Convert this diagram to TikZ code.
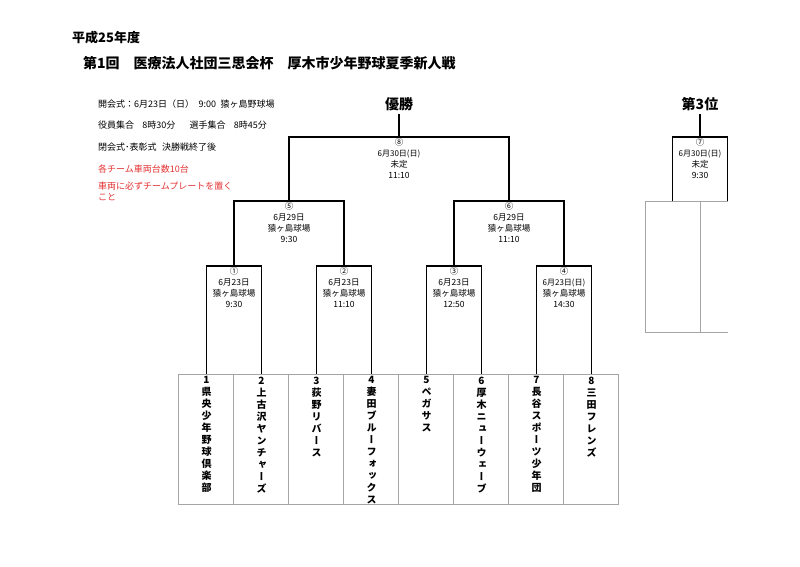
\documentclass[tikz,border=0pt]{standalone}
\usepackage{fontspec}
\setmainfont{Noto Sans CJK JP}
\newfontfamily\vfont[RawFeature=+vert]{Noto Sans CJK JP}
\definecolor{lg}{RGB}{165,165,165}
\definecolor{rd}{RGB}{228,50,50}
\begin{document}
\begin{tikzpicture}[x=1pt,y=-1pt,
  brk/.style={draw=black, line width=1.2pt},
  tbl/.style={draw=lg, line width=0.9pt},
  info/.style={anchor=west, inner sep=0, font=\fontsize{9}{11}\selectfont},
  redinfo/.style={info, text=rd},
  mlabel/.style={anchor=north, inner sep=0, align=center, font=\fontsize{8.5}{11}\selectfont},
  team/.style={anchor=north, inner sep=0, align=center, font=\fontsize{10}{12}\selectfont\vfont\bfseries},
  head/.style={inner sep=0, outer sep=3pt, font=\fontsize{14}{16}\selectfont\bfseries}]
\fill[white] (0,0) rectangle (800,567);
\useasboundingbox (0,0) rectangle (800,567);

% titles
\node[anchor=west, inner sep=0, font=\fontsize{13}{15}\selectfont\bfseries] (year) at (72,38) {平成25年度};
\node[anchor=west, inner sep=0, font=\fontsize{14}{16}\selectfont\bfseries] (title) at (83,63) {第1回\hspace{1em}医療法人社団三思会杯\hspace{1em}厚木市少年野球夏季新人戦};

% info
\node[info] (i1) at (98,104) {開会式：6月23日（日）\hspace{0.5em}9:00\hspace{0.5em}猿ヶ島野球場};
\node[info] (i2) at (98,125) {役員集合\hspace{0.9em}8時30分\hspace{1.6em}選手集合\hspace{0.9em}8時45分};
\node[info] (i3) at (98,147) {閉会式･表彰式\hspace{0.6em}決勝戦終了後};
\node[redinfo] (i4) at (98,169) {各チーム車両台数10台};
\node[redinfo, anchor=north west, align=left, font=\fontsize{9}{10.5}\selectfont] (i5) at (98,182) {車両に必ずチームプレートを置く\\こと};

% coordinates
\coordinate (t1) at (206.5,374);
\coordinate (t2) at (261.5,374);
\coordinate (t3) at (316.5,374);
\coordinate (t4) at (371.5,374);
\coordinate (t5) at (426.5,374);
\coordinate (t6) at (481.5,374);
\coordinate (t7) at (536.5,374);
\coordinate (t8) at (591.5,374);
\coordinate (m1) at (234,266);
\coordinate (m2) at (344,266);
\coordinate (m3) at (454,266);
\coordinate (m4) at (564,266);
\coordinate (m5) at (289,201);
\coordinate (m6) at (509,201);
\coordinate (m8) at (399,137);
\coordinate (m7) at (700,137);
\coordinate (a7) at (672.5,201);
\coordinate (b7) at (727.5,201);

% team table
\draw[tbl] (178,374) rectangle (618,504);
\foreach \x in {233,288,343,398,453,508,563} \draw[tbl] (\x,374) -- (\x,504);
% third place grey frame
\draw[tbl] (b7) -- (645,201) -- (645,332) -- (727.5,332);
\draw[tbl] (700,201) -- (700,332);

% bracket
\draw[brk] (t1) |- (m1) -| (t2);
\draw[brk] (t3) |- (m2) -| (t4);
\draw[brk] (t5) |- (m3) -| (t6);
\draw[brk] (t7) |- (m4) -| (t8);
\draw[brk] (m1) |- (m5) -| (m2);
\draw[brk] (m3) |- (m6) -| (m4);
\draw[brk] (m5) |- (m8) -| (m6);
\draw[brk] (a7) |- (m7) -| (b7);

\node[head] (champ) at (399,104) {優勝};
\node[head] (third) at (700,104) {第3位};
\draw[brk] (m8) -- (m8 |- champ.south);
\draw[brk] (m7) -- (m7 |- third.south);

% match labels
\node[mlabel] (l8) at (399,138.5) {⑧\\{\fontsize{8}{11}\selectfont 6月30日(日)}\\未定\\11:10};
\node[mlabel] (l7) at (700,138.5) {⑦\\{\fontsize{8}{11}\selectfont 6月30日(日)}\\未定\\9:30};
\node[mlabel] (l5) at (289,202.5) {⑤\\6月29日\\猿ヶ島球場\\9:30};
\node[mlabel] (l6) at (509,202.5) {⑥\\6月29日\\猿ヶ島球場\\11:10};
\node[mlabel] (l1) at (234,267.5) {①\\6月23日\\猿ヶ島球場\\9:30};
\node[mlabel] (l2) at (344,267.5) {②\\6月23日\\猿ヶ島球場\\11:10};
\node[mlabel] (l3) at (454,267.5) {③\\6月23日\\猿ヶ島球場\\12:50};
\node[mlabel] (l4) at (564,267.5) {④\\{\fontsize{8}{11}\selectfont 6月23日(日)}\\猿ヶ島球場\\14:30};

% teams
\node[team] (n1) at (206.5,376.5) {1\\県\\央\\少\\年\\野\\球\\倶\\楽\\部};
\node[team] (n2) at (261.5,376.5) {2\\上\\古\\沢\\ヤ\\ン\\チ\\ャ\\ー\\ズ};
\node[team] (n3) at (316.5,376.5) {3\\荻\\野\\リ\\バ\\ー\\ス};
\node[team] (n4) at (371.5,376.5) {4\\妻\\田\\ブ\\ル\\ー\\フ\\ォ\\ッ\\ク\\ス};
\node[team] (n5) at (426.5,376.5) {5\\ペ\\ガ\\サ\\ス};
\node[team] (n6) at (481.5,376.5) {6\\厚\\木\\ニ\\ュ\\ー\\ウ\\ェ\\ー\\ブ};
\node[team] (n7) at (536.5,376.5) {7\\長\\谷\\ス\\ポ\\ー\\ツ\\少\\年\\団};
\node[team] (n8) at (591.5,376.5) {8\\三\\田\\フ\\レ\\ン\\ズ};
\end{tikzpicture}
\end{document}
